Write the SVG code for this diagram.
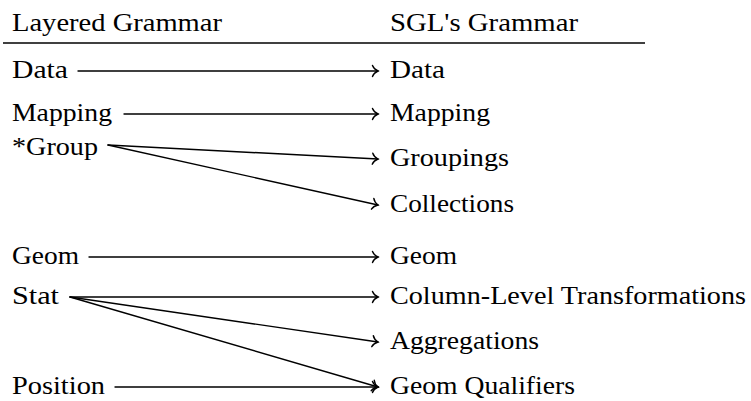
<svg xmlns="http://www.w3.org/2000/svg" width="751" height="401" viewBox="0 0 751 401">
<rect width="751" height="401" fill="#fff"/>
<g id="header">
<text x="12" y="31" font-family="Liberation Serif" font-size="26" textLength="210" lengthAdjust="spacingAndGlyphs">Layered Grammar</text>
<text x="390" y="31" font-family="Liberation Serif" font-size="26" textLength="188" lengthAdjust="spacingAndGlyphs">SGL's Grammar</text>
<line x1="3" y1="43" x2="645" y2="43" stroke="#000" stroke-width="1.3"/>
</g>
<g id="left-data"><text x="12" y="78" font-family="Liberation Serif" font-size="26" textLength="56" lengthAdjust="spacingAndGlyphs">Data</text></g>
<g id="left-mapping"><text x="12" y="121" font-family="Liberation Serif" font-size="26" textLength="100" lengthAdjust="spacingAndGlyphs">Mapping</text></g>
<g id="left-group"><text x="12" y="155" font-family="Liberation Serif" font-size="26" textLength="86" lengthAdjust="spacingAndGlyphs">*Group</text></g>
<g id="left-geom"><text x="12" y="264" font-family="Liberation Serif" font-size="26" textLength="67" lengthAdjust="spacingAndGlyphs">Geom</text></g>
<g id="left-stat"><text x="12" y="304" font-family="Liberation Serif" font-size="26" textLength="47" lengthAdjust="spacingAndGlyphs">Stat</text></g>
<g id="left-position"><text x="12" y="394" font-family="Liberation Serif" font-size="26" textLength="93" lengthAdjust="spacingAndGlyphs">Position</text></g>
<g id="right-data"><text x="390" y="78" font-family="Liberation Serif" font-size="26" textLength="55" lengthAdjust="spacingAndGlyphs">Data</text></g>
<g id="right-mapping"><text x="390" y="121" font-family="Liberation Serif" font-size="26" textLength="100" lengthAdjust="spacingAndGlyphs">Mapping</text></g>
<g id="right-groupings"><text x="390" y="166" font-family="Liberation Serif" font-size="26" textLength="119" lengthAdjust="spacingAndGlyphs">Groupings</text></g>
<g id="right-collections"><text x="390" y="212" font-family="Liberation Serif" font-size="26" textLength="124" lengthAdjust="spacingAndGlyphs">Collections</text></g>
<g id="right-geom"><text x="390" y="264" font-family="Liberation Serif" font-size="26" textLength="67" lengthAdjust="spacingAndGlyphs">Geom</text></g>
<g id="right-column"><text x="390" y="304" font-family="Liberation Serif" font-size="26" textLength="356" lengthAdjust="spacingAndGlyphs">Column-Level Transformations</text></g>
<g id="right-aggregations"><text x="390" y="349" font-family="Liberation Serif" font-size="26" textLength="149" lengthAdjust="spacingAndGlyphs">Aggregations</text></g>
<g id="right-qualifiers"><text x="390" y="394" font-family="Liberation Serif" font-size="26" textLength="185" lengthAdjust="spacingAndGlyphs">Geom Qualifiers</text></g>
<g id="connectors" stroke="#000" stroke-width="1.4" fill="none" stroke-linecap="round">
<line x1="78" y1="71" x2="378" y2="71"/>
<path transform="translate(378,71)" d="M-5.5,-5.5 C-4.5,-2.8 -1.8,-0.8 0,0 C-1.8,0.8 -4.5,2.8 -5.5,5.5"/>
<line x1="124" y1="114" x2="378" y2="114"/>
<path transform="translate(378,114)" d="M-5.5,-5.5 C-4.5,-2.8 -1.8,-0.8 0,0 C-1.8,0.8 -4.5,2.8 -5.5,5.5"/>
<line x1="108" y1="145" x2="378" y2="159"/>
<path transform="translate(378,159) rotate(2.97)" d="M-5.5,-5.5 C-4.5,-2.8 -1.8,-0.8 0,0 C-1.8,0.8 -4.5,2.8 -5.5,5.5"/>
<line x1="108" y1="145" x2="378" y2="205"/>
<path transform="translate(378,205) rotate(12.53)" d="M-5.5,-5.5 C-4.5,-2.8 -1.8,-0.8 0,0 C-1.8,0.8 -4.5,2.8 -5.5,5.5"/>
<line x1="89" y1="257" x2="378" y2="257"/>
<path transform="translate(378,257)" d="M-5.5,-5.5 C-4.5,-2.8 -1.8,-0.8 0,0 C-1.8,0.8 -4.5,2.8 -5.5,5.5"/>
<line x1="70" y1="297" x2="378" y2="297"/>
<path transform="translate(378,297)" d="M-5.5,-5.5 C-4.5,-2.8 -1.8,-0.8 0,0 C-1.8,0.8 -4.5,2.8 -5.5,5.5"/>
<line x1="70" y1="297" x2="378" y2="342"/>
<path transform="translate(378,342) rotate(8.31)" d="M-5.5,-5.5 C-4.5,-2.8 -1.8,-0.8 0,0 C-1.8,0.8 -4.5,2.8 -5.5,5.5"/>
<line x1="70" y1="297" x2="378" y2="387"/>
<path transform="translate(378,387) rotate(16.29)" d="M-5.5,-5.5 C-4.5,-2.8 -1.8,-0.8 0,0 C-1.8,0.8 -4.5,2.8 -5.5,5.5"/>
<line x1="115" y1="387" x2="378" y2="387"/>
<path transform="translate(378,387)" d="M-5.5,-5.5 C-4.5,-2.8 -1.8,-0.8 0,0 C-1.8,0.8 -4.5,2.8 -5.5,5.5"/>
</g>
</svg>
